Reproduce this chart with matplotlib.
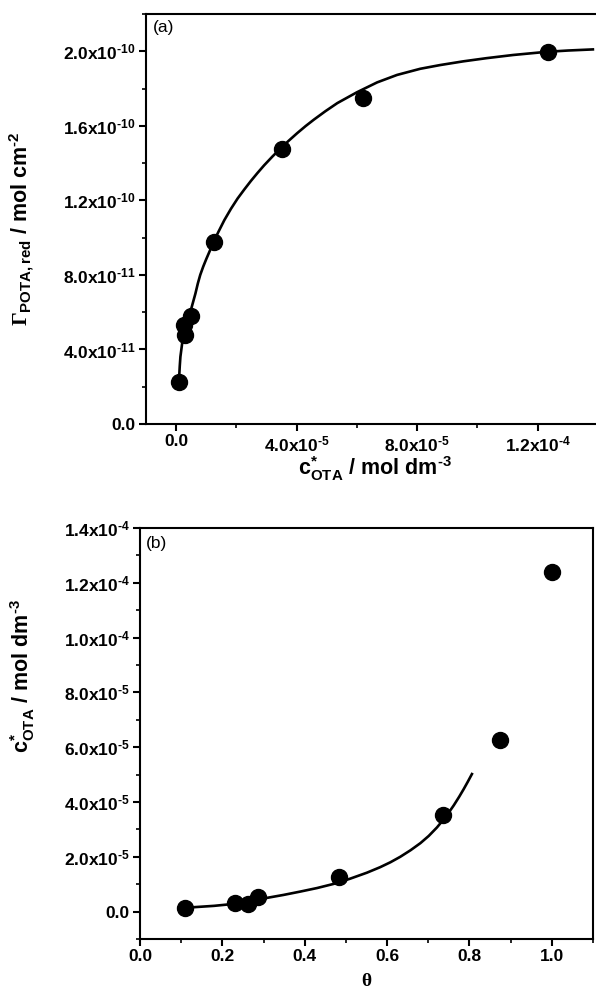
import matplotlib
matplotlib.use("Agg")
import matplotlib.pyplot as plt
from matplotlib.ticker import FixedLocator, FixedFormatter, MultipleLocator

plt.rcParams['font.family'] = ['Liberation Sans', 'DejaVu Sans']
plt.rcParams['font.weight'] = 'bold'
plt.rcParams['axes.labelweight'] = 'bold'
plt.rcParams['mathtext.fontset'] = 'custom'
plt.rcParams['mathtext.rm'] = 'Liberation Serif'
plt.rcParams['mathtext.it'] = 'Liberation Serif:italic'
plt.rcParams['mathtext.bf'] = 'Liberation Sans:bold'
plt.rcParams['mathtext.sf'] = 'Liberation Sans:bold'
plt.rcParams['mathtext.default'] = 'bf'

H_ = '\u2010'  # short hyphen used in the exponents

# ---- Panel (a): surface excess vs bulk concentration ----
c_a = [1.0e-6, 2.9e-6, 2.6e-6, 4.9e-6, 1.25e-5, 3.5e-5, 6.2e-5, 1.235e-4]
gamma_a = [2.27e-11, 4.75e-11, 5.3e-11, 5.79e-11, 9.75e-11, 1.477e-10, 1.747e-10, 1.998e-10]

fit_c_a = [1.0e-6, 1.2e-6, 1.42e-6, 2.0e-6, 2.5e-6, 3.6e-6, 4.6e-6, 5.5e-6, 6.4e-6, 7.2e-6,
           8.0e-6, 9.0e-6, 1.0e-5, 1.12e-5, 1.23e-5, 1.4e-5, 1.6e-5, 1.82e-5, 2.04e-5,
           2.26e-5, 2.48e-5, 2.7e-5, 2.92e-5, 3.2e-5, 3.49e-5, 3.75e-5, 4.02e-5, 4.3e-5,
           4.57e-5, 4.95e-5, 5.35e-5, 6.0e-5, 6.67e-5, 7.33e-5, 8.1e-5, 8.76e-5, 9.53e-5,
           1.03e-4, 1.118e-4, 1.229e-4, 1.3e-4, 1.383e-4]
fit_gamma_a = [2.5e-11, 3.1e-11, 3.61e-11, 4.33e-11, 4.86e-11, 5.45e-11, 5.94e-11, 6.47e-11,
               7.0e-11, 7.54e-11, 8.0e-11, 8.45e-11, 8.85e-11, 9.3e-11, 9.72e-11, 10.3e-11,
               10.94e-11, 11.55e-11, 12.1e-11, 12.58e-11, 13.04e-11, 13.47e-11, 13.88e-11,
               14.36e-11, 14.83e-11, 15.22e-11, 15.61e-11, 15.99e-11, 16.33e-11, 16.78e-11,
               17.22e-11, 17.8e-11, 18.33e-11, 18.73e-11, 19.06e-11, 19.26e-11, 19.46e-11,
               19.63e-11, 19.8e-11, 19.97e-11, 20.04e-11, 20.1e-11]

xt_a = [0.0, 4.0e-5, 8.0e-5, 1.2e-4]
xt_a_labels = ['0.0', '4.0x10$^{' + H_ + '5}$', '8.0x10$^{' + H_ + '5}$', '1.2x10$^{' + H_ + '4}$']
yt_a = [0.0, 4.0e-11, 8.0e-11, 1.2e-10, 1.6e-10, 2.0e-10]
yt_a_labels = ['0.0', '4.0x10$^{' + H_ + '11}$', '8.0x10$^{' + H_ + '11}$', '1.2x10$^{' + H_ + '10}$',
               '1.6x10$^{' + H_ + '10}$', '2.0x10$^{' + H_ + '10}$']

# ---- Panel (b): bulk concentration vs coverage ----
theta_b = [0.109, 0.231, 0.262, 0.286, 0.484, 0.735, 0.873, 1.0]
c_b = [1.4e-6, 3.0e-6, 2.8e-6, 5.2e-6, 1.28e-5, 3.54e-5, 6.25e-5, 1.24e-4]

fit_theta_b = [0.109, 0.13, 0.18, 0.227, 0.268, 0.308, 0.349, 0.389, 0.43, 0.47, 0.51, 0.551,
               0.583, 0.608, 0.632, 0.657, 0.681, 0.701, 0.721, 0.737, 0.75, 0.762, 0.775,
               0.786, 0.796, 0.806]
fit_c_b = [1.35e-6, 1.6e-6, 2.1e-6, 2.8e-6, 3.8e-6, 5.0e-6, 6.1e-6, 7.3e-6, 8.6e-6, 1.01e-5,
           1.2e-5, 1.42e-5, 1.62e-5, 1.8e-5, 2.0e-5, 2.24e-5, 2.5e-5, 2.76e-5, 3.07e-5,
           3.36e-5, 3.62e-5, 3.88e-5, 4.19e-5, 4.47e-5, 4.74e-5, 5.02e-5]

xt_b = [0.0, 0.2, 0.4, 0.6, 0.8, 1.0]
xt_b_labels = ['0.0', '0.2', '0.4', '0.6', '0.8', '1.0']
yt_b = [0.0, 2.0e-5, 4.0e-5, 6.0e-5, 8.0e-5, 1.0e-4, 1.2e-4, 1.4e-4]
yt_b_labels = ['0.0', '2.0x10$^{' + H_ + '5}$', '4.0x10$^{' + H_ + '5}$', '6.0x10$^{' + H_ + '5}$',
               '8.0x10$^{' + H_ + '5}$', '1.0x10$^{' + H_ + '4}$', '1.2x10$^{' + H_ + '4}$',
               '1.4x10$^{' + H_ + '4}$']

W, H = 596, 989
fig = plt.figure(figsize=(W / 100, H / 100), dpi=100)

def px_axes(l, t, r, b):
    return fig.add_axes([l / W, 1 - b / H, (r - l) / W, (b - t) / H])

ax1 = px_axes(146, 14, 598, 424)
ax2 = px_axes(140, 528, 593, 939)

TICK_FS = 12.5
LABEL_FS = 15.5

def style(ax):
    for s in ax.spines.values():
        s.set_linewidth(1.5)
        s.set_color('black')
    ax.tick_params(which='major', direction='out', length=5, width=1.5,
                   labelsize=TICK_FS, top=False, right=False, pad=2.5)
    ax.tick_params(which='minor', direction='out', length=3, width=1.2,
                   top=False, right=False)

# panel a
ax1.plot(fit_c_a, fit_gamma_a, color='black', lw=1.9, zorder=2)
ax1.plot(c_a, gamma_a, 'o', color='black', ms=11.5, zorder=3)
ax1.set_xlim(-1.0e-5, 1.4e-4)
ax1.set_ylim(0, 2.2e-10)
ax1.xaxis.set_major_locator(FixedLocator(xt_a))
ax1.xaxis.set_major_formatter(FixedFormatter(xt_a_labels))
ax1.yaxis.set_major_locator(FixedLocator(yt_a))
ax1.yaxis.set_major_formatter(FixedFormatter(yt_a_labels))
ax1.xaxis.set_minor_locator(MultipleLocator(2.0e-5))
ax1.yaxis.set_minor_locator(MultipleLocator(2.0e-11))
style(ax1)
ax1.set_xlabel('c$^{*}_{\\mathbf{OTA}}$ / mol dm$^{' + H_ + '3}$', fontsize=LABEL_FS)
ax1.xaxis.set_label_coords(0.507, -0.073)
ax1.set_ylabel('$\\mathrm{\\Gamma}_{\\mathbf{POTA,red}}$ / mol cm$^{' + H_ + '2}$', fontsize=LABEL_FS)
ax1.yaxis.set_label_coords(-0.243, 0.475)
ax1.text(0.016, 0.966, '(a)', transform=ax1.transAxes, fontsize=12.5, fontweight='normal',
         ha='left', va='center')

# panel b
ax2.plot(fit_theta_b, fit_c_b, color='black', lw=1.9, zorder=2)
ax2.plot(theta_b, c_b, 'o', color='black', ms=11.5, zorder=3)
ax2.set_xlim(0, 1.1)
ax2.set_ylim(-1.0e-5, 1.4e-4)
ax2.xaxis.set_major_locator(FixedLocator(xt_b))
ax2.xaxis.set_major_formatter(FixedFormatter(xt_b_labels))
ax2.yaxis.set_major_locator(FixedLocator(yt_b))
ax2.yaxis.set_major_formatter(FixedFormatter(yt_b_labels))
ax2.xaxis.set_minor_locator(MultipleLocator(0.1))
ax2.yaxis.set_minor_locator(MultipleLocator(1.0e-5))
style(ax2)
ax2.set_xlabel('$\\mathrm{\\theta}$', fontsize=14)
ax2.xaxis.set_label_coords(0.5, -0.082)
ax2.set_ylabel('c$^{*}_{\\mathbf{OTA}}$ / mol dm$^{' + H_ + '3}$', fontsize=LABEL_FS)
ax2.yaxis.set_label_coords(-0.227, 0.64)
ax2.text(0.013, 0.963, '(b)', transform=ax2.transAxes, fontsize=12.5, fontweight='normal',
         ha='left', va='center')

fig.savefig('out.png', dpi=100)
